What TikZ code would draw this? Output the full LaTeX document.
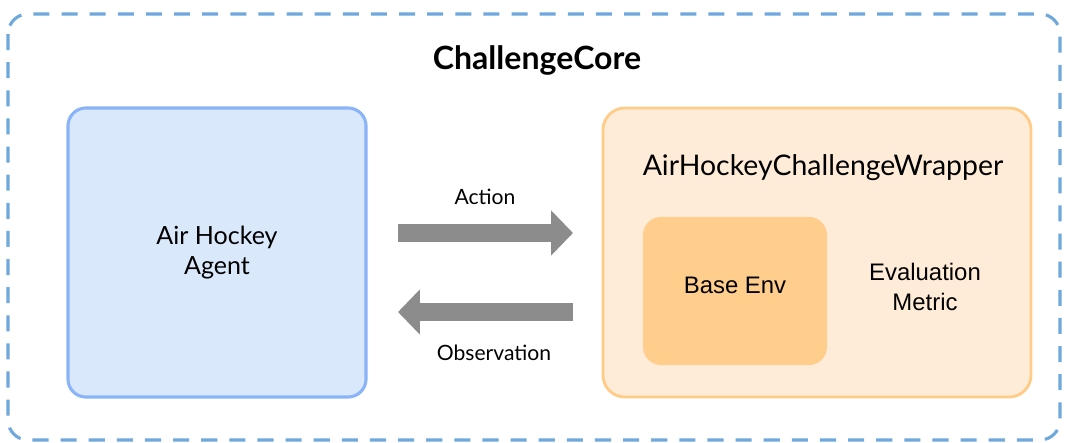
\documentclass[tikz,border=0pt]{standalone}
\usepackage{fontspec}
\setmainfont{Lato}
\newfontfamily\boxfont{Liberation Sans}
\usepackage{xcolor}
\usetikzlibrary{positioning, arrows.meta}

\definecolor{corebd}{HTML}{6FA8DC}
\definecolor{agentfill}{HTML}{DAE8FC}
\definecolor{agentbd}{HTML}{8AB4F8}
\definecolor{wrapfill}{HTML}{FFECD8}
\definecolor{wrapbd}{HTML}{FFCC88}
\definecolor{envfill}{HTML}{FFCD8C}
\definecolor{flowgray}{HTML}{8C8C8C}

\begin{document}
\begin{tikzpicture}[
      x=0.025cm, y=-0.025cm,
      core/.style={draw=corebd, line width=2.2pt, dash pattern=on 11.4pt off 8.6pt, rounded corners=0.5cm},
      agent/.style={draw=agentbd, fill=agentfill, line width=2.2pt, rounded corners=0.45cm, minimum width=7.45cm, minimum height=7.225cm, align=center, font=\fontsize{17.8}{21}\selectfont},
      wrap/.style={draw=wrapbd, fill=wrapfill, line width=2pt, rounded corners=0.55cm, minimum width=10.7cm, minimum height=7.225cm},
      env/.style={fill=envfill, rounded corners=0.45cm, minimum width=4.6cm, minimum height=3.7cm},
      boxtxt/.style={align=center, font=\boxfont\fontsize{17}{21}\selectfont},
      lbl/.style={font=\fontsize{15}{18}\selectfont},
      flow/.style={draw=flowgray, line width=12.8pt, -{Triangle[length=15.6pt, width=31.3pt]}}
    ]
    \useasboundingbox (0,0) rectangle (1067,442);
    %% outer frame
    \draw[core] (8,14) rectangle (1060,440);
    \node[font=\bfseries\fontsize{22.8}{26}\selectfont] (title) at (537,60) {ChallengeCore};
    %% agent side
    \node[agent] (agent) at (217,252.5) {Air Hockey\\Agent};
    %% wrapper side
    \node[wrap] (wrap) at (817,252.5) {};
    \node[font=\fontsize{20.2}{24}\selectfont] (wraptitle) at (823,168) {AirHockeyChallengeWrapper};
    \node[env] (env) at (735,291) {};
    \node[boxtxt] (envtxt) at (735,285) {Base Env};
    \node[boxtxt] (metric) at (925,287) {Evaluation\\Metric};
    %% flows
    \coordinate (act-s) at (398,233);
    \coordinate (act-e) at (573,233);
    \coordinate (obs-s) at (573,312);
    \coordinate (obs-e) at (398,312);
    \draw[flow] (act-s) -- (act-e);
    \draw[flow] (obs-s) -- (obs-e);
    \node[lbl] (action) at (485,197) {Action};
    \node[lbl] (obs) at (494,353) {Observation};
\end{tikzpicture}
\end{document}
